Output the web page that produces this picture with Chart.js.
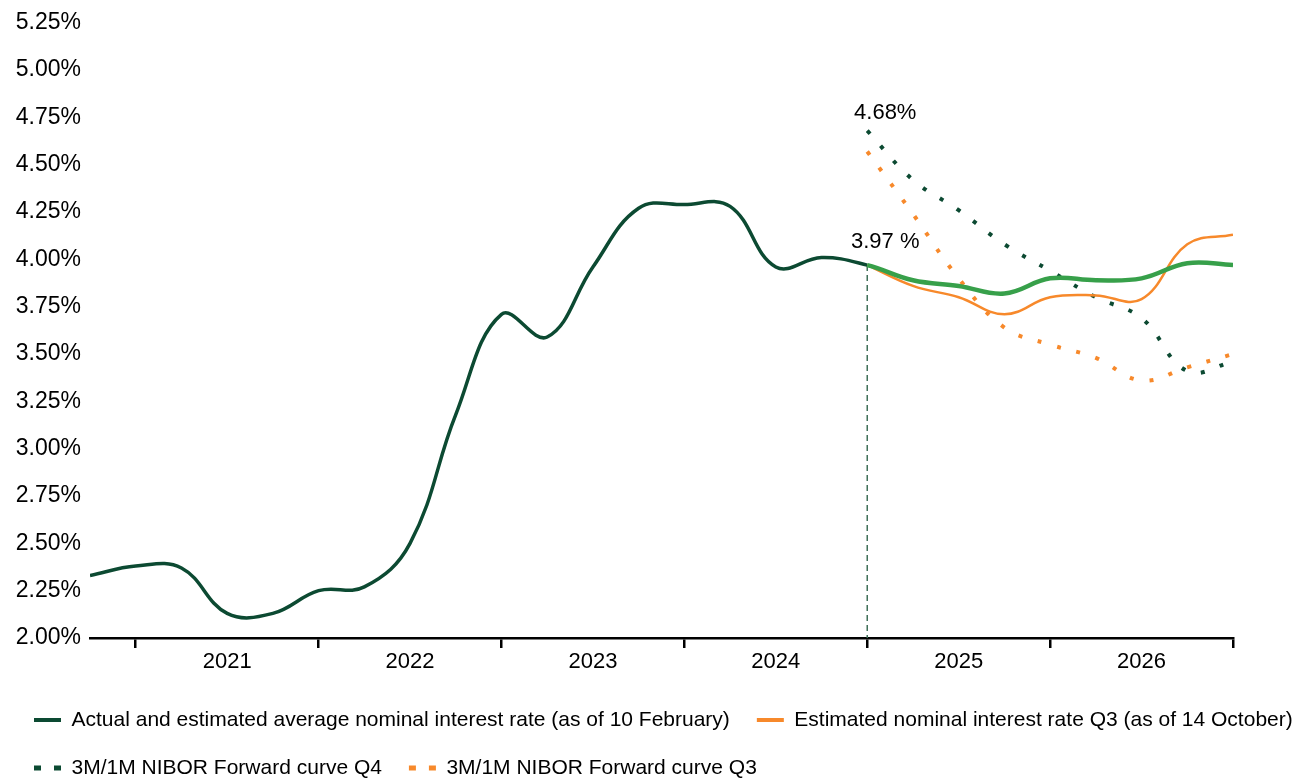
<!DOCTYPE html>
<html>
<head>
<meta charset="utf-8">
<script src="https://cdn.jsdelivr.net/npm/chart.js@4/dist/chart.umd.min.js"></script>
<style>
  html, body { margin: 0; padding: 0; background: #ffffff; }
  #wrap { width: 1304px; height: 780px; position: relative; }
</style>
</head>
<body>
<div id="wrap"><canvas id="chart"></canvas></div>
<script>
// ---------- data ----------
const quarters = [
  '2020Q3','2020Q4',
  '2021Q1','2021Q2','2021Q3','2021Q4',
  '2022Q1','2022Q2','2022Q3','2022Q4',
  '2023Q1','2023Q2','2023Q3','2023Q4',
  '2024Q1','2024Q2','2024Q3','2024Q4',
  '2025Q1','2025Q2','2025Q3','2025Q4',
  '2026Q1','2026Q2','2026Q3','2026Q4'
];
const yearLabels = ['2021','2022','2023','2024','2025','2026'];

// actual up to 2024Q4, estimate (as of 10 February) afterwards
const actualAndEstimated = [
  2.33, 2.38,
  2.37, 2.13, 2.13, 2.25,
  2.27, 2.50, 3.18, 3.71,
  3.59, 3.96, 4.27, 4.29,
  4.28, 3.96, 4.01, 3.97,
  3.89, 3.86, 3.82, 3.90,
  3.89, 3.90, 3.98, 3.97
];
const estimateQ3 = [
  null, null,
  null, null, null, null,
  null, null, null, null,
  null, null, null, null,
  null, null, null, 3.97,
  3.86, 3.80, 3.71, 3.80,
  3.81, 3.79, 4.08, 4.13
];
const forwardQ4 = [
  null, null,
  null, null, null, null,
  null, null, null, null,
  null, null, null, null,
  null, null, null, 4.68,
  4.42, 4.26, 4.08, 3.94,
  3.80, 3.69, 3.41, 3.46
];
const forwardQ3 = [
  null, null,
  null, null, null, null,
  null, null, null, null,
  null, null, null, null,
  null, null, null, 4.57,
  4.24, 3.90, 3.64, 3.55,
  3.48, 3.36, 3.43, 3.50
];
const seriesNames = [
  'Actual and estimated average nominal interest rate (as of 10 February)',
  'Estimated nominal interest rate Q3 (as of 14 October)',
  '3M/1M NIBOR Forward curve Q4',
  '3M/1M NIBOR Forward curve Q3'
];
const firstEstimateIndex = 17;
const calloutTexts = ['3.97 %', '4.68%'];

// ---------- helpers ----------
const qx = q => Number(q.slice(0, 4)) + Number(q.slice(5)) / 4; // quarter end as year fraction
const toPoints = arr => quarters.map((q, i) => ({ x: qx(q), y: arr[i] }));

const darkGreen = '#0c4a32';
const lightGreen = '#37a04a';
const orange = '#f7892b';
const FONT = '"Liberation Sans", Arial, sans-serif';

const xTickValues = [];
yearLabels.forEach(y => { xTickValues.push(Number(y), Number(y) + 0.5); });
xTickValues.push(Number(yearLabels[yearLabels.length - 1]) + 1);

const legendStyles = [
  { lineWidth: 4, lineDash: [] },
  { lineWidth: 4, lineDash: [] },
  { lineWidth: 5, lineDash: [7, 13] },
  { lineWidth: 5, lineDash: [7, 13] }
];

const annotate = {
  id: 'annotate',
  beforeDatasetsDraw(chart) {
    const { ctx, scales: { x, y } } = chart;
    const px = x.getPixelForValue(qx(quarters[firstEstimateIndex]));
    const py = y.getPixelForValue(actualAndEstimated[firstEstimateIndex]);
    ctx.save();
    ctx.strokeStyle = '#3f6f58';
    ctx.lineWidth = 1.5;
    ctx.setLineDash([6, 4]);
    ctx.beginPath();
    ctx.moveTo(px, py);
    ctx.lineTo(px, y.bottom);
    ctx.stroke();
    ctx.restore();
  },
  afterDatasetsDraw(chart) {
    const { ctx, scales: { x, y } } = chart;
    const px = x.getPixelForValue(qx(quarters[firstEstimateIndex]));
    const p1 = y.getPixelForValue(actualAndEstimated[firstEstimateIndex]);
    const p2 = y.getPixelForValue(forwardQ4[firstEstimateIndex]);
    ctx.save();
    ctx.fillStyle = '#000000';
    ctx.font = '22px ' + FONT;
    ctx.textAlign = 'center';
    ctx.textBaseline = 'middle';
    ctx.fillText(calloutTexts[0], px + 18, p1 - 23);
    ctx.fillText(calloutTexts[1], px + 18, p2 - 18);
    ctx.restore();
  }
};

new Chart(document.getElementById('chart'), {
  type: 'line',
  data: {
    datasets: [
      {
        label: seriesNames[0],
        data: toPoints(actualAndEstimated),
        borderColor: darkGreen,
        backgroundColor: darkGreen,
        borderWidth: 3.5,
        tension: 0.4,
        pointRadius: 0,
        segment: {
          borderColor: c => c.p0DataIndex >= firstEstimateIndex ? lightGreen : undefined,
          borderWidth: c => c.p0DataIndex >= firstEstimateIndex ? 4.5 : undefined
        }
      },
      {
        label: seriesNames[1],
        data: toPoints(estimateQ3),
        borderColor: orange,
        backgroundColor: orange,
        borderWidth: 2.5,
        tension: 0.4,
        pointRadius: 0
      },
      {
        label: seriesNames[2],
        data: toPoints(forwardQ4),
        borderColor: darkGreen,
        backgroundColor: darkGreen,
        borderWidth: 4,
        borderDash: [4, 16],
        tension: 0.4,
        pointRadius: 0
      },
      {
        label: seriesNames[3],
        data: toPoints(forwardQ3),
        borderColor: orange,
        backgroundColor: orange,
        borderWidth: 4,
        borderDash: [4, 16],
        tension: 0.4,
        pointRadius: 0
      }
    ]
  },
  options: {
    responsive: true,
    maintainAspectRatio: false,
    animation: false,
    layout: { padding: { top: 20, left: 7, right: -60, bottom: -8.5 } },
    plugins: {
      tooltip: { enabled: false },
      legend: {
        position: 'bottom',
        align: 'start',
        labels: {
          color: '#000000',
          font: { family: FONT, size: 21 },
          padding: 27,
          usePointStyle: true,
          pointStyle: 'line',
          pointStyleWidth: 27,
          generateLabels(chart) {
            const items = Chart.defaults.plugins.legend.labels.generateLabels(chart);
            items.forEach(it => {
              const st = legendStyles[it.datasetIndex];
              it.lineWidth = st.lineWidth;
              it.lineDash = st.lineDash;
              it.pointStyle = 'line';
            });
            return items;
          }
        }
      }
    },
    scales: {
      x: {
        type: 'linear',
        min: qx(quarters[0]),
        max: qx(quarters[quarters.length - 1]),
        afterBuildTicks: s => { s.ticks = xTickValues.map(v => ({ value: v })); },
        afterFit: s => { s.height = 44.5; },
        ticks: {
          autoSkip: false,
          maxRotation: 0,
          padding: 1,
          color: '#000000',
          font: { family: FONT, size: 22 },
          callback: v => (v % 1 === 0.5) ? yearLabels[yearLabels.indexOf(String(Math.floor(v)))] : ''
        },
        grid: {
          display: true,
          drawOnChartArea: false,
          drawTicks: true,
          tickLength: 10,
          lineWidth: 2.5,
          color: c => (c.tick && Number.isInteger(c.tick.value)) ? '#000000' : 'rgba(0,0,0,0)'
        },
        border: { display: true, color: '#000000', width: 2.5 }
      },
      y: {
        type: 'linear',
        position: 'left',
        min: 2,
        max: 5.25,
        afterFit: s => { s.width = 83; },
        ticks: {
          stepSize: 0.25,
          padding: 9,
          color: '#000000',
          font: { family: FONT, size: 23 },
          callback: v => v.toFixed(2) + '%'
        },
        grid: { display: false, drawTicks: false, tickLength: 0 },
        border: { display: false }
      },
      yRight: {
        type: 'linear',
        position: 'right',
        display: true,
        afterFit: s => { s.width = 131; },
        ticks: { display: false },
        grid: { display: false, drawTicks: false },
        border: { display: false }
      }
    }
  },
  plugins: [annotate]
});
</script>
</body>
</html>
